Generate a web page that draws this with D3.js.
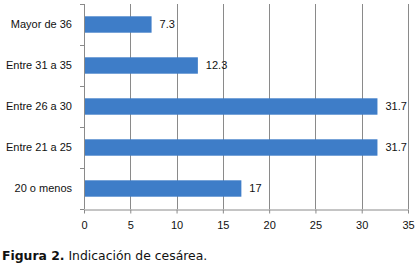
<!DOCTYPE html>
<html>
<head>
<meta charset="utf-8">
<script src="https://cdn.jsdelivr.net/npm/d3@7"></script>
<style>
  body { margin: 0; background: #fff; }
  svg { display: block; }
</style>
</head>
<body>
<div id="chart"></div>
<script>
const categories = ["Mayor de 36", "Entre 31 a 35", "Entre 26 a 30", "Entre 21 a 25", "20 o menos"];
const values = [7.3, 12.3, 31.7, 31.7, 17];
const valueLabels = ["7.3", "12.3", "31.7", "31.7", "17"];
const xTicks = [0, 5, 10, 15, 20, 25, 30, 35];

const width = 420, height = 266;
const margins = { top: 4, right: 12, bottom: 57, left: 84 };

const svg = d3.select("#chart")
    .append("svg")
    .attr("width", width)
    .attr("height", height)
    .style("font-family", "'Liberation Sans', sans-serif");

const x = d3.scaleLinear()
    .domain([0, 35])
    .range([margins.left, width - margins.right]);
const y = d3.scaleBand()
    .domain(categories)
    .range([margins.top, height - margins.bottom])
    .paddingInner(0.6)
    .paddingOuter(0.3);

const plotTop = margins.top, plotBottom = height - margins.bottom;

// vertical gridlines
svg.append("g")
    .selectAll("line")
    .data(xTicks.slice(1))
    .join("line")
    .attr("x1", d => Math.round(x(d)) + 0.5)
    .attr("x2", d => Math.round(x(d)) + 0.5)
    .attr("y1", plotTop)
    .attr("y2", plotBottom)
    .attr("stroke", "#8a8a8a");

// bars
svg.append("g")
    .selectAll("rect")
    .data(categories)
    .join("rect")
    .attr("x", x(0))
    .attr("y", d => y(d))
    .attr("width", (d, i) => x(values[i]) - x(0))
    .attr("height", y.bandwidth())
    .attr("fill", "#3e7dc8");

// value labels
svg.append("g")
    .selectAll("text")
    .data(categories)
    .join("text")
    .attr("x", (d, i) => x(values[i]) + 8)
    .attr("y", d => y(d) + y.bandwidth() / 2)
    .attr("dy", "0.35em")
    .attr("font-size", 11)
    .attr("fill", "#111")
    .text((d, i) => valueLabels[i]);

// y axis with boundary ticks
const gy = svg.append("g");
gy.append("line")
    .attr("x1", Math.round(x(0)) + 0.5).attr("x2", Math.round(x(0)) + 0.5)
    .attr("y1", plotTop).attr("y2", plotBottom)
    .attr("stroke", "#8a8a8a");
gy.selectAll("line.tick")
    .data(d3.range(categories.length + 1))
    .join("line")
    .attr("class", "tick")
    .attr("x1", Math.round(x(0)) - 4)
    .attr("x2", Math.round(x(0)))
    .attr("y1", i => Math.round(plotTop + i * (plotBottom - plotTop) / categories.length) + 0.5)
    .attr("y2", i => Math.round(plotTop + i * (plotBottom - plotTop) / categories.length) + 0.5)
    .attr("stroke", "#8a8a8a");
gy.selectAll("text")
    .data(categories)
    .join("text")
    .attr("x", x(0) - 12)
    .attr("y", d => y(d) + y.bandwidth() / 2)
    .attr("dy", "0.35em")
    .attr("text-anchor", "end")
    .attr("font-size", 11)
    .attr("fill", "#111")
    .text(d => d);

// x axis
const gx = svg.append("g")
    .attr("transform", `translate(0,${plotBottom + 0.5})`)
    .call(d3.axisBottom(x).tickValues(xTicks).tickSize(4).tickSizeOuter(0).tickPadding(8));
gx.select(".domain").attr("stroke", "#8a8a8a");
gx.selectAll(".tick line").attr("stroke", "#8a8a8a");
gx.selectAll("text")
    .attr("font-size", 11)
    .attr("font-family", "'Liberation Sans', sans-serif")
    .attr("fill", "#111");

// caption
const cap = svg.append("text")
    .attr("x", 2)
    .attr("y", 260)
    .attr("font-family", "'DejaVu Sans', sans-serif")
    .attr("font-size", 12.4)
    .attr("fill", "#111");
cap.append("tspan").attr("font-weight", "bold").text("Figura 2.");
cap.append("tspan").text(" Indicación de cesárea.");
</script>
</body>
</html>
